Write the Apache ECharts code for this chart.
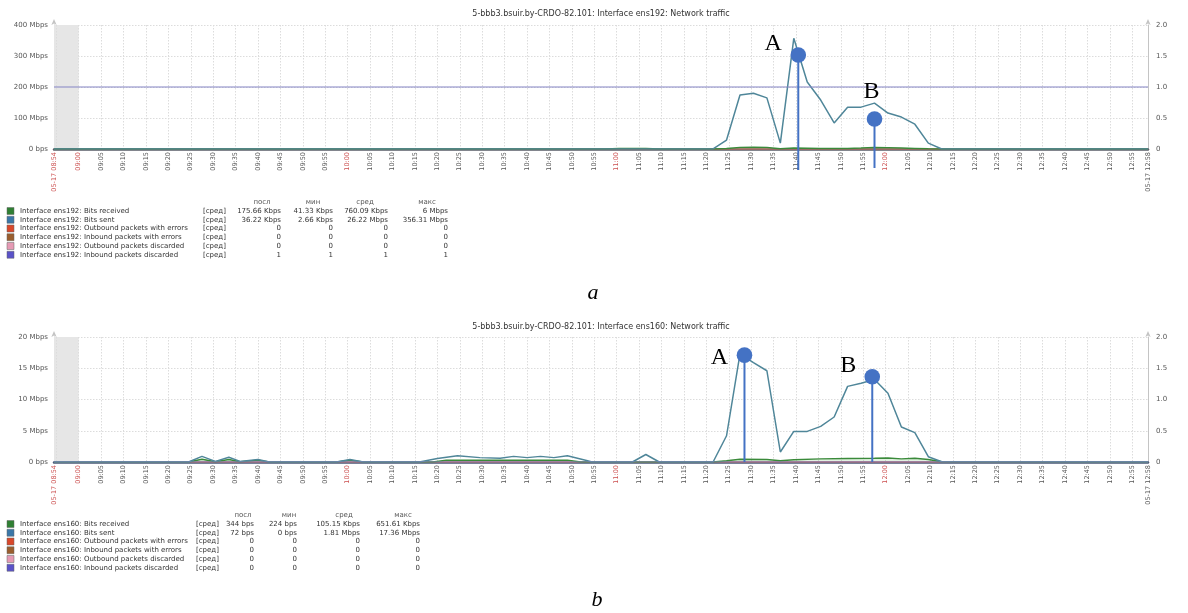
<!DOCTYPE html>
<html><head><meta charset="utf-8">
<script src="https://cdn.jsdelivr.net/npm/echarts@6/dist/echarts.min.js"></script>
<style>html,body{margin:0;padding:0;background:#fff}#c{width:1188px;height:613px}</style>
</head><body><div id="c"></div>
<script>
// ================= DATA =================
const titleA = '5-bbb3.bsuir.by-CRDO-82.101: Interface ens192: Network traffic';
const titleB = '5-bbb3.bsuir.by-CRDO-82.101: Interface ens160: Network traffic';
const datePrefix = '05-17';
const startTime = '08:54:30';
const endTime = '12:58:30';
const yTicksA = [0, 100, 200, 300, 400];      // Mbps
const yTicksB = [0, 5, 10, 15, 20];           // Mbps
const rightTicks = [0, 0.5, 1, 1.5, 2];
const statHeaders = ['посл', 'мин', 'сред', 'макс'];
const funcLabel = '[сред]';

// chart a (ens192)
const aSentT = ['08:54:30','11:21:30','11:24:30','11:27:30','11:30:30','11:33:30','11:36:30','11:39:30','11:42:30','11:45:30','11:48:30','11:51:30','11:54:30','11:57:30','12:00:30','12:03:30','12:06:30','12:09:30','12:12:30','12:58:30'];
const aSentV = [0.04,0.04,29,174,180,165,19,357,216,158,84,135,135,148,116,103,80,19,0.04,0.04];
const aRecvT = ['08:54:30','10:57:30','11:00:30','11:06:30','11:09:30','11:21:30','11:24:30','11:27:30','11:30:30','11:33:30','11:36:30','11:39:30','11:42:30','11:45:30','11:48:30','11:51:30','11:54:30','11:57:30','12:00:30','12:03:30','12:06:30','12:09:30','12:12:30','12:58:30'];
const aRecvV = [0.1,0.1,1.5,1.5,0.1,0.1,2,5,6,5,1,3,2.5,2,1.5,2,3,5,4,3,2,1,0.2,0.2];
const aZeroT = ['08:54:30','12:58:30'];
const aOutErrV = [0, 0];
const aInErrV = [0, 0];
const aOutDiscV = [0, 0];
const aInDiscV = [1, 1];
const aMarkers = [{time:'11:40:30', value:303, label:'A'}, {time:'11:57:30', value:97, label:'B'}];
const aNames = ['Interface ens192: Bits received','Interface ens192: Bits sent','Interface ens192: Outbound packets with errors','Interface ens192: Inbound packets with errors','Interface ens192: Outbound packets discarded','Interface ens192: Inbound packets discarded'];
const aLast = ['175.66 Kbps','36.22 Kbps','0','0','0','1'];
const aMin  = ['41.33 Kbps','2.66 Kbps','0','0','0','1'];
const aAvg  = ['760.09 Kbps','26.22 Mbps','0','0','0','1'];
const aMax  = ['6 Mbps','356.31 Mbps','0','0','0','1'];

// chart b (ens160)
const bSentT = ['08:54:30','09:24:30','09:27:30','09:30:30','09:33:30','09:36:00','09:40:00','09:42:30','09:57:30','10:00:30','10:03:30','10:16:00','10:20:00','10:24:30','10:29:30','10:34:00','10:37:00','10:40:00','10:43:00','10:46:00','10:49:00','10:53:30','10:54:30','11:03:30','11:06:30','11:09:30','11:21:30','11:24:30','11:27:30','11:30:30','11:33:30','11:36:30','11:39:30','11:42:30','11:45:30','11:48:30','11:51:30','11:54:30','11:57:30','12:00:30','12:03:30','12:06:30','12:09:30','12:12:30','12:58:30'];
const bSentV = [0,0,0.9,0.1,0.75,0.1,0.4,0,0,0.4,0,0,0.55,1.0,0.7,0.6,0.9,0.7,0.9,0.7,1.0,0.2,0,0,1.2,0,0,4.2,17.3,15.9,14.6,1.6,4.9,4.9,5.7,7.2,12.1,12.6,13.2,11.0,5.6,4.7,0.85,0.05,0];
const bRecvT = ['08:54:30','09:24:30','09:27:30','09:30:30','09:33:30','09:36:00','09:40:00','09:42:30','09:57:30','10:00:30','10:03:30','10:19:00','10:22:00','10:49:00','10:52:00','11:21:30','11:24:30','11:27:30','11:33:30','11:36:30','11:39:30','11:45:30','11:51:30','11:57:30','12:00:30','12:03:30','12:06:30','12:09:30','12:12:30','12:58:30'];
const bRecvV = [0,0,0.45,0.05,0.4,0.05,0.3,0,0,0.3,0,0,0.3,0.3,0,0,0.2,0.45,0.4,0.2,0.35,0.5,0.55,0.6,0.65,0.5,0.6,0.4,0.05,0];
const bZeroT = ['08:54:30','12:58:30'];
const bOutErrV = [0, 0];
const bInErrV = [0, 0];
const bOutDiscV = [0, 0];
const bInDiscV = [0, 0];
const bMarkers = [{time:'11:28:30', value:17.1, label:'A'}, {time:'11:57:00', value:13.65, label:'B'}];
const bNames = ['Interface ens160: Bits received','Interface ens160: Bits sent','Interface ens160: Outbound packets with errors','Interface ens160: Inbound packets with errors','Interface ens160: Outbound packets discarded','Interface ens160: Inbound packets discarded'];
const bLast = ['344 bps','72 bps','0','0','0','0'];
const bMin  = ['224 bps','0 bps','0','0','0','0'];
const bAvg  = ['105.15 Kbps','1.81 Mbps','0','0','0','0'];
const bMax  = ['651.61 Kbps','17.36 Mbps','0','0','0','0'];

// ================= STYLE =================
const FONT = '"DejaVu Sans", sans-serif';
const legendColors = ['#2f7f33', '#3a77a8', '#d9482b', '#9a5e2e', '#e59ab4', '#5a52c8'];
const lineColors = { recv: '#3a8a3a', sent: '#4f8699', inDisc: '#8484c4' };
const markerColor = '#4472c4';
const redLabel = '#cc5050';

// ================= BUILD =================
function toSec(s){ const p = s.split(':').map(Number); return p[0]*3600 + p[1]*60 + (p[2]||0); }
function fmt(sec){ const h=Math.floor(sec/3600), m=Math.floor(sec%3600/60), s=sec%60; return [h,m,s].map(v=>String(v).padStart(2,'0')).join(':'); }
const cats = [];
for (let s = toSec(startTime); s <= toSec(endTime); s += 30) cats.push(fmt(s));
const LAST = cats.length - 1;
const ix = t => cats.indexOf(t);
const zip = (T, V) => T.map((t, i) => [ix(t), V[i]]);

function isFive(idx, val){ return val.endsWith(':00') && (+val.slice(3,5)) % 5 === 0; }
function isHour(val){ return val.slice(3,8) === '00:00'; }

function makeXAxis(gridIndex, axisColor){
  return {
    type: 'category', gridIndex, data: cats, boundaryGap: false, z: 3,
    axisLine: { lineStyle: { color: axisColor, width: 2.5 } },
    axisTick: { show: false },
    axisLabel: {
      interval: (i, v) => i === 0 || i === LAST || isFive(i, v),
      rotate: 90, fontSize: 6.5, fontFamily: FONT, margin: 3,
      showMinLabel: true, showMaxLabel: true, hideOverlap: false,
      formatter: (v, i) => (i === 0 || i === LAST) ? datePrefix + ' ' + v.slice(0,5) : v.slice(0,5),
      color: (v, i) => (i === 0 || i === LAST || isHour(v)) ? redLabel : '#555'
    },
    splitLine: { show: true, interval: (i, v) => i !== 0 && i !== LAST && isFive(i, v), lineStyle: { color: '#dcdcdc', type: [1.5, 1.5], width: 1 } }
  };
}
function makeLeftY(gridIndex, ticks){
  return {
    type: 'value', gridIndex, min: ticks[0], max: ticks[ticks.length-1], interval: ticks[1]-ticks[0],
    axisLine: { show: true, lineStyle: { color: '#c4c4c4', width: 1 }, symbol: ['none','arrow'], symbolSize: [4,6], symbolOffset: [0, 6] },
    axisTick: { show: false },
    axisLabel: { fontSize: 7, fontFamily: FONT, color: '#555', margin: 6, formatter: v => v === 0 ? '0 bps' : v + ' Mbps' },
    splitLine: { show: true, lineStyle: { color: '#dcdcdc', type: [1.5, 1.5] } }
  };
}
function makeRightY(gridIndex){
  return {
    type: 'value', gridIndex, position: 'right', min: rightTicks[0], max: rightTicks[rightTicks.length-1], interval: 0.5,
    axisLine: { show: true, lineStyle: { color: '#c4c4c4', width: 1 }, symbol: ['none','arrow'], symbolSize: [4,6], symbolOffset: [0, 6] },
    axisTick: { show: false },
    axisLabel: { fontSize: 7, fontFamily: FONT, color: '#555', margin: 8, formatter: v => v === 0 ? '0' : v.toFixed(1) },
    splitLine: { show: false }
  };
}
function lineSeries(name, xi, yi, data, color, width, extra){
  return Object.assign({
    type: 'line', name, xAxisIndex: xi, yAxisIndex: yi, data, showSymbol: false, symbol: 'none',
    lineStyle: { color, width }, itemStyle: { color }, animation: false
  }, extra || {});
}
const letterStyle = {
  a: { A: { dx: -25, dy: -11.5, ext: 21 }, B: { dx: -3, dy: -27.5, ext: 19 } },
  b: { A: { dx: -25, dy: 3, ext: 0 },      B: { dx: -24, dy: -11, ext: 0 } }
};
function markerSeries(xi, yi, markers, st){
  return {
    type: 'custom', xAxisIndex: xi, yAxisIndex: yi, z: 10, clip: false, animation: false,
    data: markers.map(m => [ix(m.time), m.value]),
    renderItem: (params, api) => {
      const m = markers[params.dataIndex];
      const s = st[m.label];
      const p = api.coord([api.value(0), api.value(1)]);
      const b = api.coord([api.value(0), 0]);
      return { type: 'group', children: [
        { type: 'line', shape: { x1: p[0], y1: p[1], x2: p[0], y2: b[1] + s.ext }, style: { stroke: markerColor, lineWidth: 2 } },
        { type: 'circle', shape: { cx: p[0], cy: p[1], r: 7.8 }, style: { fill: markerColor } },
        { type: 'text', x: p[0] + s.dx, y: p[1] + s.dy, style: { text: m.label, font: '24px "Liberation Serif", "DejaVu Serif", serif', fill: '#000', align: 'center', verticalAlign: 'middle' } }
      ]};
    }
  };
}
const grayRegion = { silent: true, itemStyle: { color: '#e6e6e6' }, data: [[{ xAxis: 0 }, { xAxis: ix('09:00:00') }]] };

function legendBlock(y0, names, cols, colx){
  const els = [];
  const f = '7px ' + FONT;
  statHeaders.forEach((h, i) => els.push({ type: 'text', x: colx.hdr[i], y: y0, style: { text: h, font: f, fill: '#555', align: 'center', verticalAlign: 'middle' } }));
  names.forEach((n, r) => {
    const y = y0 + 9 + r * 8.75;
    els.push({ type: 'rect', shape: { x: 7, y: y - 3.5, width: 7, height: 7 }, style: { fill: legendColors[r], stroke: '#666', lineWidth: 0.5 } });
    els.push({ type: 'text', x: 20, y, style: { text: n, font: f, fill: '#333', align: 'left', verticalAlign: 'middle' } });
    els.push({ type: 'text', x: colx.func, y, style: { text: funcLabel, font: f, fill: '#333', align: 'left', verticalAlign: 'middle' } });
    cols.forEach((c, k) => els.push({ type: 'text', x: colx.val[k], y, style: { text: c[r], font: f, fill: '#333', align: 'right', verticalAlign: 'middle' } }));
  });
  return els;
}

const chart = echarts.init(document.getElementById('c'));
const option = {
  animation: false,
  backgroundColor: '#fff',
  grid: [
    { left: 54, top: 25, width: 1094, height: 124 },
    { left: 54, top: 337, width: 1094, height: 125 }
  ],
  xAxis: [ makeXAxis(0, '#5a5d68'), makeXAxis(1, '#4a5878') ],
  yAxis: [ makeLeftY(0, yTicksA), makeRightY(0), makeLeftY(1, yTicksB), makeRightY(1) ],
  series: [
    // chart a
    lineSeries('Outbound packets with errors', 0, 1, zip(aZeroT, aOutErrV), legendColors[2], 1),
    lineSeries('Inbound packets with errors', 0, 1, zip(aZeroT, aInErrV), legendColors[3], 1),
    lineSeries('Outbound packets discarded', 0, 1, zip(aZeroT, aOutDiscV), legendColors[4], 1),
    lineSeries('Bits received', 0, 0, zip(aRecvT, aRecvV), lineColors.recv, 1.5, { areaStyle: { color: 'rgba(120,190,120,0.3)' }, markArea: grayRegion }),
    lineSeries('Bits sent', 0, 0, zip(aSentT, aSentV), lineColors.sent, 1.5),
    lineSeries('Inbound packets discarded', 0, 1, zip(aZeroT, aInDiscV), lineColors.inDisc, 1.2),
    markerSeries(0, 0, aMarkers, letterStyle.a),
    // chart b
    lineSeries('Outbound packets with errors', 1, 3, zip(bZeroT, bOutErrV), legendColors[2], 1),
    lineSeries('Inbound packets with errors', 1, 3, zip(bZeroT, bInErrV), legendColors[3], 1),
    lineSeries('Outbound packets discarded', 1, 3, zip(bZeroT, bOutDiscV), legendColors[4], 1),
    lineSeries('Bits received', 1, 2, zip(bRecvT, bRecvV), lineColors.recv, 1.5, { areaStyle: { color: 'rgba(120,190,120,0.3)' }, markArea: grayRegion }),
    lineSeries('Bits sent', 1, 2, zip(bSentT, bSentV), lineColors.sent, 1.5),
    lineSeries('Inbound packets discarded', 1, 3, zip(bZeroT, bInDiscV), lineColors.inDisc, 1.2),
    markerSeries(1, 2, bMarkers, letterStyle.b)
  ],
  graphic: [
    { type: 'text', x: 601, y: 14, style: { text: titleA, font: '8px ' + FONT, fill: '#333', align: 'center', verticalAlign: 'middle' } },
    { type: 'text', x: 601, y: 327, style: { text: titleB, font: '8px ' + FONT, fill: '#333', align: 'center', verticalAlign: 'middle' } },
    ...legendBlock(202, aNames, [aLast, aMin, aAvg, aMax], { hdr: [262, 313, 365, 427], func: 203, val: [281, 333, 388, 448] }),
    ...legendBlock(515, bNames, [bLast, bMin, bAvg, bMax], { hdr: [243, 289, 344, 403], func: 196, val: [254, 297, 360, 420] }),
    { type: 'text', x: 593, y: 293, style: { text: 'a', font: 'italic 22px "Liberation Serif", serif', fill: '#000', align: 'center', verticalAlign: 'middle' } },
    { type: 'text', x: 597, y: 600, style: { text: 'b', font: 'italic 22px "Liberation Serif", serif', fill: '#000', align: 'center', verticalAlign: 'middle' } }
  ]
};
chart.setOption(option);
</script>
</body></html>
